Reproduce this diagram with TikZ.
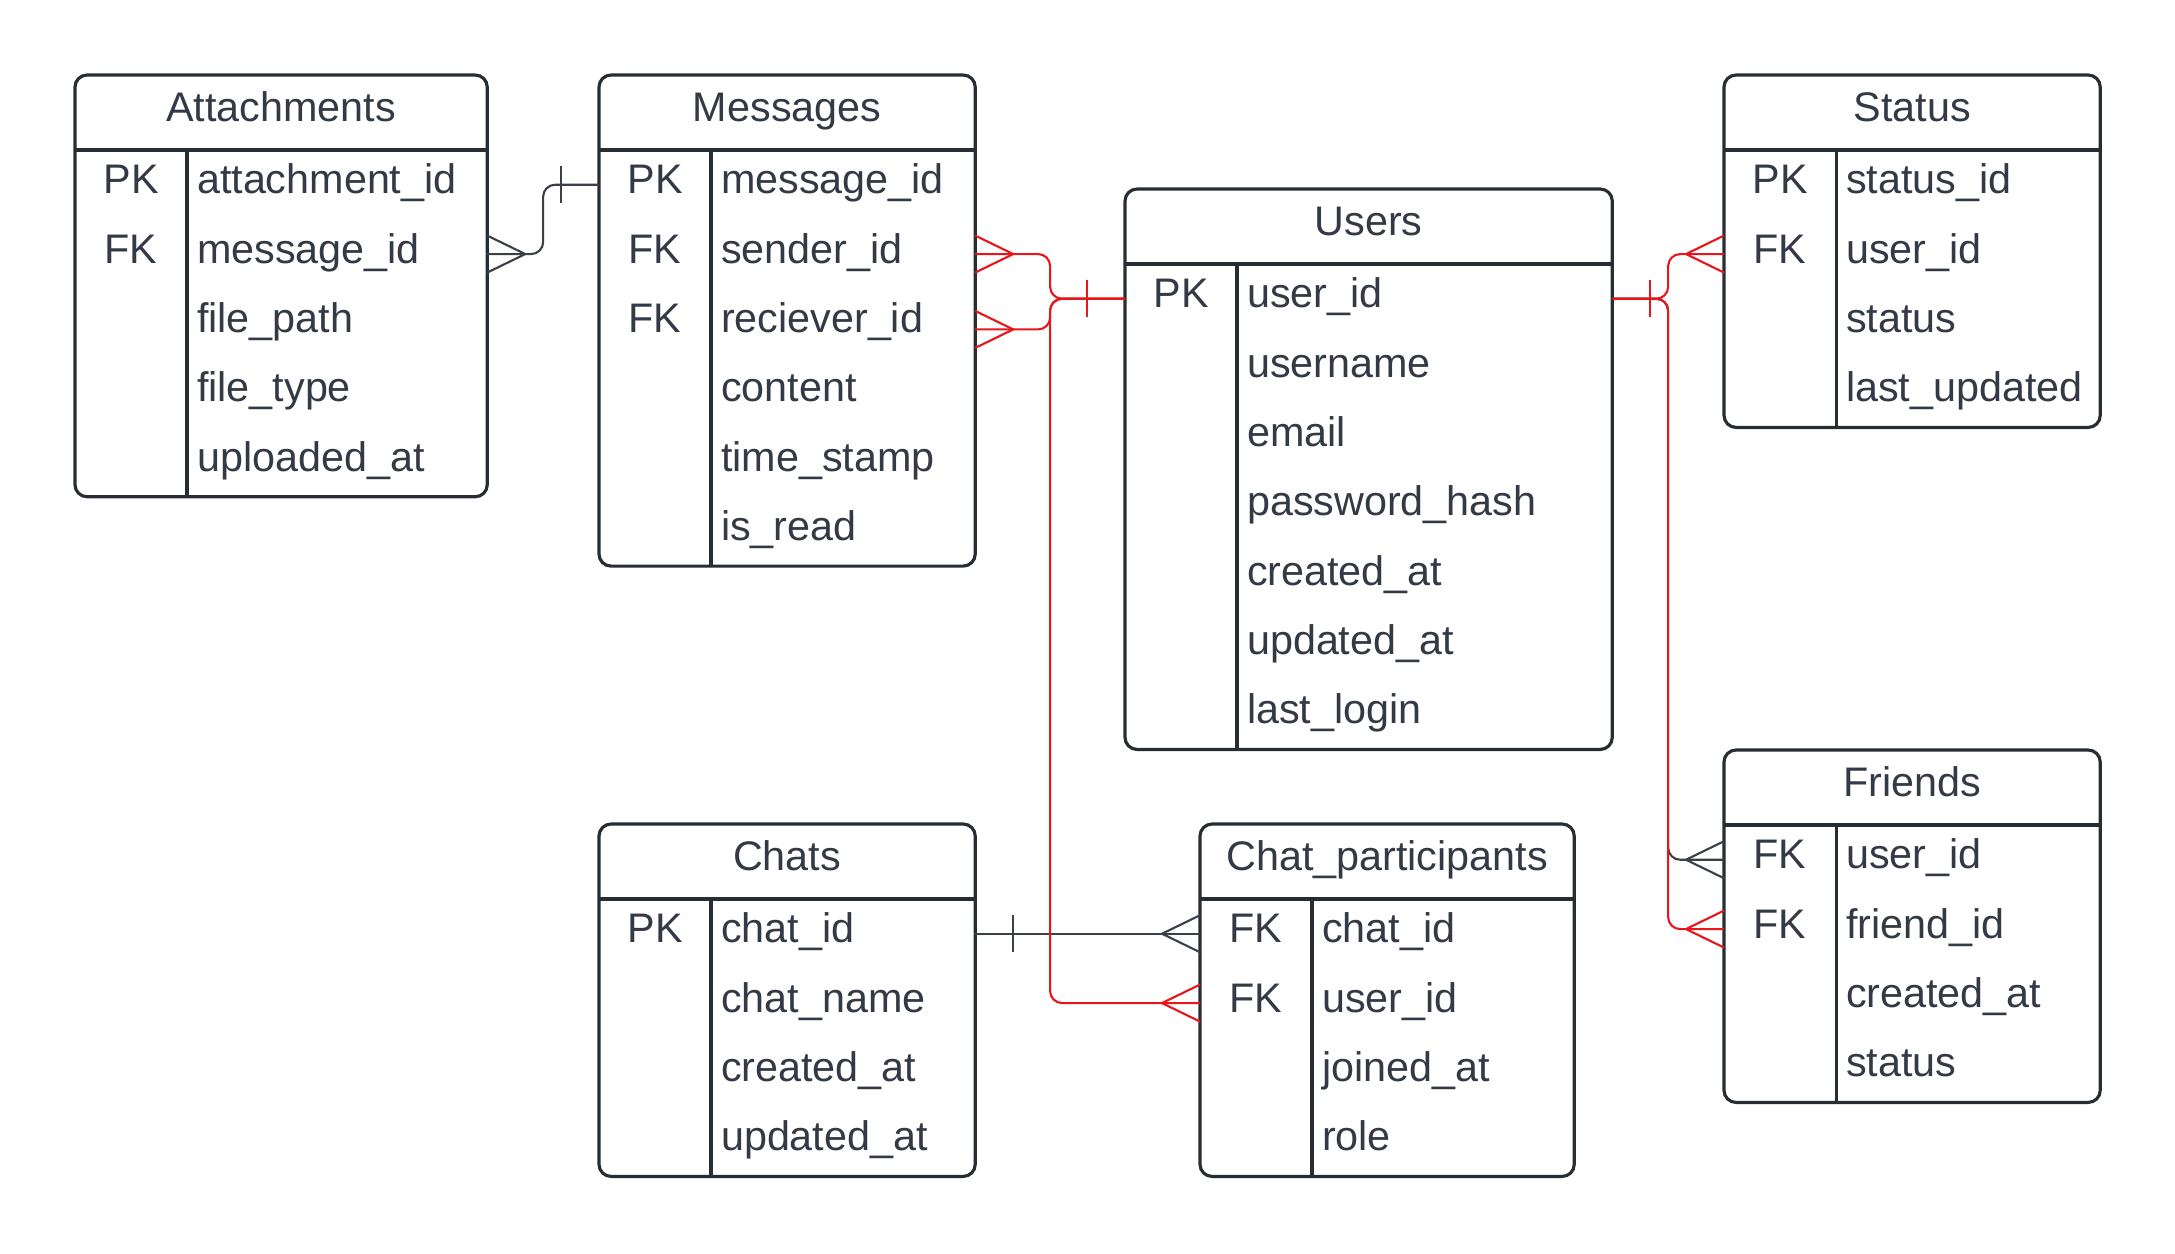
\documentclass[tikz,border=0pt]{standalone}
\usepackage{fontspec}
\setmainfont{Liberation Sans}
\usetikzlibrary{positioning, calc}
\definecolor{erLine}{HTML}{282C33}
\definecolor{erText}{HTML}{333A45}
\definecolor{erLink}{HTML}{3A3F48}
\definecolor{erRed}{HTML}{E8161B}
\tikzset{
	rel/.style={draw, line width=0.6pt, rounded corners=0.12cm},
	manyE/.pic={\draw[rel, sharp corners] (0,-18.5) -- (38,0) -- (0,18.5);},
	manyW/.pic={\draw[rel, sharp corners] (0,-18.5) -- (-38,0) -- (0,18.5);},
	oneE/.pic={\draw[rel] (38,-18.5) -- (38,18.5);},
	oneW/.pic={\draw[rel] (-38,-18.5) -- (-38,18.5);}
}

\begin{document}
\begin{tikzpicture}[
		x=0.01cm, y=-0.01cm,
		every node/.style={font=\fontsize{11.75}{14}\selectfont, text=erText, outer sep=0pt},
		tbl/.style={draw=erLine, line width=0.9pt, rounded corners=0.12cm},
		sep/.style={draw=erLine, line width=0.9pt},
		head/.style={minimum height=0.75cm, inner sep=0pt, text height=8.2pt, text depth=3pt},
		fieldcell/.style={text width=3cm, align=left, minimum height=0.693cm, inner sep=0pt, text height=8.2pt, text depth=3pt},
		keycell/.style={minimum width=1.12cm, minimum height=0.693cm, inner sep=0pt, text height=8.2pt, text depth=3pt},
		reldark/.style={rel, erLink},
		relred/.style={rel, erRed}
		]
		\useasboundingbox (0,0) rectangle (2175,1253);
		
		% Attachments
		\node[head, minimum width=4.12cm, anchor=north west] (att-h) at (75,75) {Attachments};
		\node[fieldcell, anchor=north west] (att-f1) at ([xshift=1.22cm]att-h.south west) {attachment\_id};
		\node[fieldcell, below=0pt of att-f1] (att-f2) {message\_id};
		\node[fieldcell, below=0pt of att-f2] (att-f3) {file\_path};
		\node[fieldcell, below=0pt of att-f3] (att-f4) {file\_type};
		\node[fieldcell, below=0pt of att-f4] (att-f5) {uploaded\_at};
		\node[keycell, left=1mm of att-f1] (att-k1) {PK};
		\node[keycell, left=1mm of att-f2] (att-k2) {FK};
		\draw[tbl] (att-h.north west) rectangle (att-h.east |- att-f5.south);
		\draw[sep] (att-h.south west) -- (att-h.south east);
		\draw[sep] (att-k1.north east) -- (att-k1.east |- att-f5.south);
		
		% Messages
		\node[head, minimum width=3.76cm, anchor=north west] (msg-h) at (599,75) {Messages};
		\node[fieldcell, anchor=north west] (msg-f1) at ([xshift=1.22cm]msg-h.south west) {message\_id};
		\node[fieldcell, below=0pt of msg-f1] (msg-f2) {sender\_id};
		\node[fieldcell, below=0pt of msg-f2] (msg-f3) {reciever\_id};
		\node[fieldcell, below=0pt of msg-f3] (msg-f4) {content};
		\node[fieldcell, below=0pt of msg-f4] (msg-f5) {time\_stamp};
		\node[fieldcell, below=0pt of msg-f5] (msg-f6) {is\_read};
		\node[keycell, left=1mm of msg-f1] (msg-k1) {PK};
		\node[keycell, left=1mm of msg-f2] (msg-k2) {FK};
		\node[keycell, left=1mm of msg-f3] (msg-k3) {FK};
		\draw[tbl] (msg-h.north west) rectangle (msg-h.east |- msg-f6.south);
		\draw[sep] (msg-h.south west) -- (msg-h.south east);
		\draw[sep] (msg-k1.north east) -- (msg-k1.east |- msg-f6.south);
		
		% Users
		\node[head, minimum width=4.87cm, anchor=north west] (usr-h) at (1125,189) {Users};
		\node[fieldcell, anchor=north west] (usr-f1) at ([xshift=1.22cm]usr-h.south west) {user\_id};
		\node[fieldcell, below=0pt of usr-f1] (usr-f2) {username};
		\node[fieldcell, below=0pt of usr-f2] (usr-f3) {email};
		\node[fieldcell, below=0pt of usr-f3] (usr-f4) {password\_hash};
		\node[fieldcell, below=0pt of usr-f4] (usr-f5) {created\_at};
		\node[fieldcell, below=0pt of usr-f5] (usr-f6) {updated\_at};
		\node[fieldcell, below=0pt of usr-f6] (usr-f7) {last\_login};
		\node[keycell, left=1mm of usr-f1] (usr-k1) {PK};
		\draw[tbl] (usr-h.north west) rectangle (usr-h.east |- usr-f7.south);
		\draw[sep] (usr-h.south west) -- (usr-h.south east);
		\draw[sep] (usr-k1.north east) -- (usr-k1.east |- usr-f7.south);
		
		% Status
		\node[head, minimum width=3.76cm, anchor=north west] (sta-h) at (1724,75) {Status};
		\node[fieldcell, anchor=north west] (sta-f1) at ([xshift=1.22cm]sta-h.south west) {status\_id};
		\node[fieldcell, below=0pt of sta-f1] (sta-f2) {user\_id};
		\node[fieldcell, below=0pt of sta-f2] (sta-f3) {status};
		\node[fieldcell, below=0pt of sta-f3] (sta-f4) {last\_updated};
		\node[keycell, left=1mm of sta-f1] (sta-k1) {PK};
		\node[keycell, left=1mm of sta-f2] (sta-k2) {FK};
		\draw[tbl] (sta-h.north west) rectangle (sta-h.east |- sta-f4.south);
		\draw[sep] (sta-h.south west) -- (sta-h.south east);
		\draw[sep] (sta-k1.north east) -- (sta-k1.east |- sta-f4.south);
		
		% Friends
		\node[head, minimum width=3.76cm, anchor=north west] (fri-h) at (1724,750) {Friends};
		\node[fieldcell, anchor=north west] (fri-f1) at ([xshift=1.22cm]fri-h.south west) {user\_id};
		\node[fieldcell, below=0pt of fri-f1] (fri-f2) {friend\_id};
		\node[fieldcell, below=0pt of fri-f2] (fri-f3) {created\_at};
		\node[fieldcell, below=0pt of fri-f3] (fri-f4) {status};
		\node[keycell, left=1mm of fri-f1] (fri-k1) {FK};
		\node[keycell, left=1mm of fri-f2] (fri-k2) {FK};
		\draw[tbl] (fri-h.north west) rectangle (fri-h.east |- fri-f4.south);
		\draw[sep] (fri-h.south west) -- (fri-h.south east);
		\draw[sep] (fri-k1.north east) -- (fri-k1.east |- fri-f4.south);
		
		% Chats
		\node[head, minimum width=3.76cm, anchor=north west] (cht-h) at (599,824) {Chats};
		\node[fieldcell, anchor=north west] (cht-f1) at ([xshift=1.22cm]cht-h.south west) {chat\_id};
		\node[fieldcell, below=0pt of cht-f1] (cht-f2) {chat\_name};
		\node[fieldcell, below=0pt of cht-f2] (cht-f3) {created\_at};
		\node[fieldcell, below=0pt of cht-f3] (cht-f4) {updated\_at};
		\node[keycell, left=1mm of cht-f1] (cht-k1) {PK};
		\draw[tbl] (cht-h.north west) rectangle (cht-h.east |- cht-f4.south);
		\draw[sep] (cht-h.south west) -- (cht-h.south east);
		\draw[sep] (cht-k1.north east) -- (cht-k1.east |- cht-f4.south);
		
		% Chat_participants
		\node[head, minimum width=3.74cm, anchor=north west] (cpt-h) at (1200,824) {Chat\_participants};
		\node[fieldcell, anchor=north west] (cpt-f1) at ([xshift=1.22cm]cpt-h.south west) {chat\_id};
		\node[fieldcell, below=0pt of cpt-f1] (cpt-f2) {user\_id};
		\node[fieldcell, below=0pt of cpt-f2] (cpt-f3) {joined\_at};
		\node[fieldcell, below=0pt of cpt-f3] (cpt-f4) {role};
		\node[keycell, left=1mm of cpt-f1] (cpt-k1) {FK};
		\node[keycell, left=1mm of cpt-f2] (cpt-k2) {FK};
		\draw[tbl] (cpt-h.north west) rectangle (cpt-h.east |- cpt-f4.south);
		\draw[sep] (cpt-h.south west) -- (cpt-h.south east);
		\draw[sep] (cpt-k1.north east) -- (cpt-k1.east |- cpt-f4.south);
		
		% Row ends for the relations
		\coordinate (att-e2) at (att-h.east |- att-f2);
		\coordinate (msg-w1) at (msg-h.west |- msg-f1);
		\coordinate (msg-e2) at (msg-h.east |- msg-f2);
		\coordinate (msg-e3) at ([yshift=-0.06cm]msg-h.east |- msg-f3);
		\coordinate (usr-w1) at (usr-h.west |- usr-f1);
		\coordinate (usr-e1) at (usr-h.east |- usr-f1);
		\coordinate (sta-w2) at (sta-h.west |- sta-f2);
		\coordinate (fri-w1) at (fri-h.west |- fri-f1);
		\coordinate (fri-w2) at (fri-h.west |- fri-f2);
		\coordinate (cht-e1) at (cht-h.east |- cht-f1);
		\coordinate (cpt-w1) at (cpt-h.west |- cpt-f1);
		\coordinate (cpt-w2) at (cpt-h.west |- cpt-f2);
		\coordinate (ja) at ($(att-h.east)!0.5!(msg-h.west)$);
		\coordinate (jl) at ($(msg-h.east)!0.5!(usr-h.west)$);
		\coordinate (jr) at ($(usr-h.east)!0.5!(sta-h.west)$);
		
		% Dark relations
		\draw[reldark] (att-e2) -- (att-e2 -| ja) -- (msg-w1 -| ja) -- (msg-w1);
		\pic[erLink] at (att-e2) {manyE};
		\pic[erLink] at (msg-w1) {oneW};
		\draw[reldark] (cht-e1) -- (cpt-w1);
		\pic[erLink] at (cht-e1) {oneE};
		\pic[erLink] at (cpt-w1) {manyW};
		\draw[reldark] (usr-e1) -- (usr-e1 -| jr) -- (fri-w1 -| jr) -- (fri-w1);
		\pic[erLink] at (fri-w1) {manyW};
		
		% Red relations to Users
		\draw[relred] (msg-e2) -- (msg-e2 -| jl) -- (usr-w1 -| jl) -- (usr-w1);
		\draw[relred] (msg-e3) -- (msg-e3 -| jl) -- (usr-w1 -| jl) -- (usr-w1);
		\draw[relred] (usr-w1) -- (usr-w1 -| jl) -- (cpt-w2 -| jl) -- (cpt-w2);
		\draw[relred] (usr-e1) -- (usr-e1 -| jr) -- (sta-w2 -| jr) -- (sta-w2);
		\draw[relred] (usr-e1) -- (usr-e1 -| jr) -- (fri-w2 -| jr) -- (fri-w2);
		\pic[erRed] at (msg-e2) {manyE};
		\pic[erRed] at (msg-e3) {manyE};
		\pic[erRed] at (usr-w1) {oneW};
		\pic[erRed] at (usr-e1) {oneE};
		\pic[erRed] at (cpt-w2) {manyW};
		\pic[erRed] at (sta-w2) {manyW};
		\pic[erRed] at (fri-w2) {manyW};
		
	\end{tikzpicture}
\end{document}
